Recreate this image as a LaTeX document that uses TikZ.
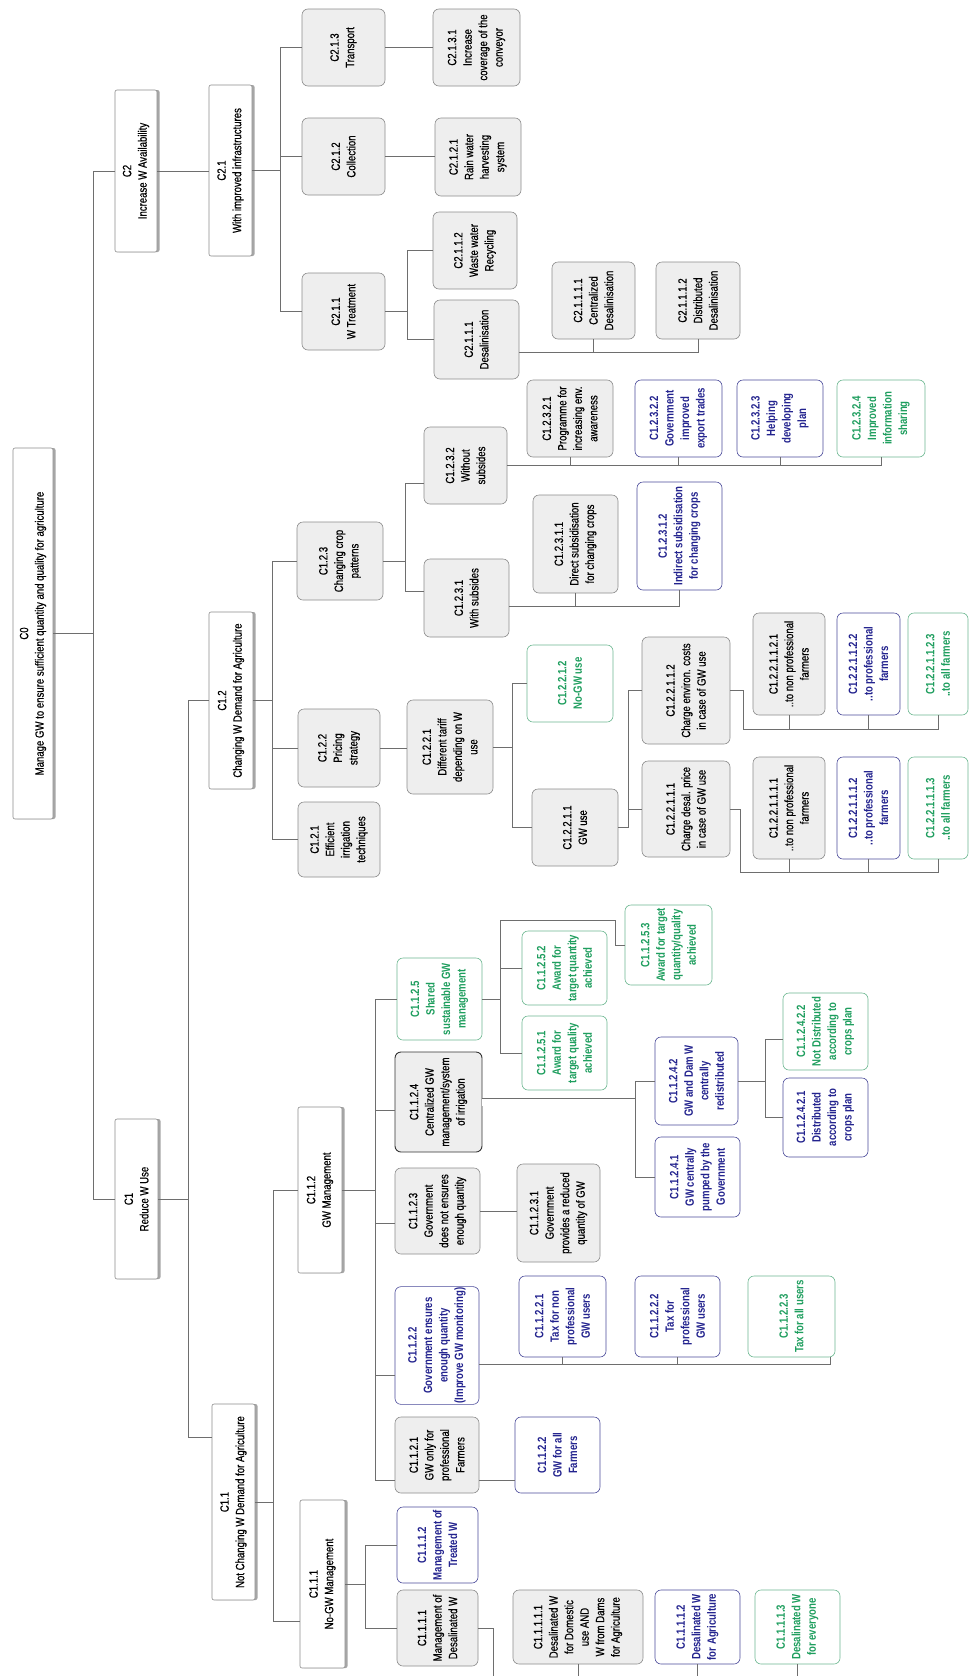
\documentclass[tikz,border=0pt]{standalone}
\usepackage{fontspec}
\setmainfont{Liberation Sans}[FakeStretch=0.8, UprightFeatures={FakeBold=0.6}]
\usetikzlibrary{calc,shadows}
\definecolor{lnk}{HTML}{6E6E6E}
\definecolor{gfill}{HTML}{EEEEEE}
\definecolor{gdraw}{HTML}{8C8C8C}
\definecolor{navy}{HTML}{23238E}
\definecolor{navyd}{HTML}{4A4A9A}
\definecolor{grn}{HTML}{1E9E5E}
\definecolor{grnd}{HTML}{6DB891}
\newcommand\bx[7]{\node[#2, minimum width={(#6-#5)*1pt}, minimum height={(#4-#3)*1pt}] (#1) at ({(#3+#4)/2},{(#5+#6)/2}) {#7};}
\begin{document}
\begin{tikzpicture}[x=1pt,y=-1pt,
  base/.style={rotate=90, align=center, inner sep=1pt, font=\fontsize{12}{15.5}\selectfont, line width=0.6pt},
  tbox/.style={base, rounded corners=2pt, draw=gdraw, fill=white, drop shadow={shadow xshift=2.5pt, shadow yshift=0pt, fill=gray!70, opacity=1}},
  gbox/.style={base, rounded corners=6pt, draw=gdraw, fill=gfill},
  gboxd/.style={gbox, draw=black!80, line width=0.9pt},
  bbox/.style={base, rounded corners=6pt, draw=navyd, fill=white, text=navy, font=\fontsize{12}{15.5}\selectfont\bfseries},
  ebox/.style={base, rounded corners=6pt, draw=grnd, fill=white, text=grn, font=\fontsize{12}{15.5}\selectfont\bfseries},
  lk/.style={draw=lnk, line width=0.7pt}
]
\useasboundingbox (0,0) rectangle (969,1676);
\fill[white] (0,0) rectangle (969,1676);
% ---------- top level ----------
\bx{C0}{tbox}{13}{53}{448}{819}{C0\\Manage GW to ensure sufficient quantity and quality for agriculture}
\bx{C2}{tbox}{115}{157}{90}{252}{C2\\Increase W Availability}
\bx{C1}{tbox}{115}{158}{1119}{1279}{C1\\Reduce W Use}
\bx{C21}{tbox}{209}{252}{85}{256}{C2.1\\With improved infrastructures}
\bx{C12}{tbox}{209}{253}{612}{789}{C1.2\\Changing W Demand for Agriculture}
\bx{C11}{tbox}{212}{255}{1404}{1600}{C1.1\\Not Changing W Demand for Agriculture}
\bx{C112}{tbox}{298}{342}{1107}{1273}{C1.1.2\\GW Management}
\bx{C111}{tbox}{300}{345}{1500}{1668}{C1.1.1\\No-GW Management}
% ---------- C2 branch ----------
\bx{C211}{gbox}{302}{385}{273}{350}{C2.1.1\\W Treatment}
\bx{C212}{gbox}{302}{385}{118}{195}{C2.1.2\\Collection}
\bx{C213}{gbox}{302}{385}{9}{86}{C2.1.3\\Transport}
\bx{C2131}{gbox}{433}{520}{9}{86}{C2.1.3.1\\Increase\\coverage of the\\conveyor}
\bx{C2121}{gbox}{435}{521}{118}{196}{C2.1.2.1\\Rain water\\harvesting\\system}
\bx{C2112}{gbox}{433}{517}{212}{289}{C2.1.1.2\\Waste water\\Recycling}
\bx{C2111}{gbox}{434}{519}{300}{379}{C2.1.1.1\\Desalinisation}
\bx{C21111}{gbox}{552}{635}{262}{339}{C2.1.1.1.1\\Centralized\\Desalinisation}
\bx{C21112}{gbox}{656}{740}{262}{339}{C2.1.1.1.2\\Distributed\\Desalinisation}
% ---------- C1.2 branch ----------
\bx{C123}{gbox}{297}{383}{522}{600}{C1.2.3\\Changing crop\\patterns}
\bx{C122}{gbox}{298}{380}{709}{787}{C1.2.2\\Pricing\\strategy}
\bx{C121}{gbox}{298}{380}{802}{877}{C1.2.1\\Efficient\\irrigation\\techniques}
\bx{C1232}{gbox}{424}{507}{427}{504}{C1.2.3.2\\Without\\subsides}
\bx{C1231}{gbox}{424}{509}{559}{637}{C1.2.3.1\\With subsides}
\bx{C12321}{gbox}{527}{613}{380}{457}{C1.2.3.2.1\\Programme for\\increasing env.\\awareness}
\bx{C12322}{bbox}{635}{722}{380}{457}{C1.2.3.2.2\\Government\\improved\\export trades}
\bx{C12323}{bbox}{737}{823}{380}{457}{C1.2.3.2.3\\Helping\\developing\\plan}
\bx{C12324}{ebox}{837}{925}{380}{457}{C1.2.3.2.4\\Improved\\information\\sharing}
\bx{C12311}{gbox}{533}{618}{495}{593}{C1.2.3.1.1\\Direct subsidisation\\for changing crops}
\bx{C12312}{bbox}{637}{722}{482}{590}{C1.2.3.1.2\\Indirect subsidisation\\for changing crops}
\bx{C1221}{gbox}{407}{493}{700}{794}{C1.2.2.1\\Different tariff\\depending on W\\use}
\bx{C12212}{ebox}{527}{613}{645}{722}{C1.2.2.1.2\\No-GW use}
\bx{C12211}{gbox}{532}{618}{789}{866}{C1.2.2.1.1\\GW use}
\bx{C122112}{gbox}{642}{730}{637}{744}{C1.2.2.1.1.2\\Charge environ. costs\\in case of GW use}
\bx{C122111}{gbox}{642}{730}{761}{857}{C1.2.2.1.1.1\\Charge desal. price\\in case of GW use}
\bx{C1221121}{gbox}{753}{825}{613}{715}{C1.2.2.1.1.2.1\\..to non professional\\farmers}
\bx{C1221122}{bbox}{837}{900}{613}{715}{C1.2.2.1.1.2.2\\..to professional\\farmers}
\bx{C1221123}{ebox}{908}{968}{613}{715}{C1.2.2.1.1.2.3\\..to all farmers}
\bx{C1221111}{gbox}{753}{825}{757}{859}{C1.2.2.1.1.1.1\\..to non professional\\farmers}
\bx{C1221112}{bbox}{837}{900}{757}{859}{C1.2.2.1.1.1.2\\..to professional\\farmers}
\bx{C1221113}{ebox}{908}{968}{757}{859}{C1.2.2.1.1.1.3\\..to all farmers}
% ---------- C1.1.2 branch ----------
\bx{C1125}{ebox}{397}{482}{958}{1040}{C1.1.2.5\\Shared\\sustainable GW\\management}
\bx{C1124}{gboxd}{395}{482}{1052}{1152}{C1.1.2.4\\Centralized GW\\management/system\\of irrigation}
\bx{C1123}{gbox}{395}{480}{1168}{1254}{C1.1.2.3\\Government\\does not ensures\\enough quantity}
\bx{C1122}{bbox}{395}{479}{1287}{1404}{C1.1.2.2\\Government ensures\\enough quantity\\(Improve GW monitoring)}
\bx{C1121}{gbox}{395}{479}{1417}{1493}{C1.1.2.1\\GW only for\\professional\\Farmers}
\bx{C11252}{ebox}{522}{607}{931}{1005}{C1.1.2.5.2\\Award for\\target quantity\\achieved}
\bx{C11251}{ebox}{522}{607}{1016}{1090}{C1.1.2.5.1\\Award for\\target quality\\achieved}
\bx{C11253}{ebox}{625}{712}{905}{985}{C1.1.2.5.3\\Award for target\\quantity/quality\\achieved}
\bx{C11242}{bbox}{655}{738}{1037}{1125}{C1.1.2.4.2\\GW and Dam W\\centrally\\redistributed}
\bx{C11241}{bbox}{655}{740}{1137}{1217}{C1.1.2.4.1\\GW centrally\\pumped by the\\Government}
\bx{C112422}{ebox}{783}{868}{993}{1070}{C1.1.2.4.2.2\\Not Distributed\\according to\\crops plan}
\bx{C112421}{bbox}{783}{868}{1078}{1157}{C1.1.2.4.2.1\\Distributed\\according to\\crops plan}
\bx{C11231}{gbox}{517}{600}{1164}{1262}{C1.1.2.3.1\\Government\\provides a reduced\\quantity of GW}
\bx{C11221}{bbox}{519}{606}{1276}{1357}{C1.1.2.2.1\\Tax for non\\professional\\GW users}
\bx{C11222}{bbox}{635}{720}{1276}{1357}{C1.1.2.2.2\\Tax for\\professional\\GW users}
\bx{C11223}{ebox}{748}{835}{1276}{1357}{C1.1.2.2.3\\Tax for all users}
\bx{C1122b}{bbox}{515}{600}{1417}{1493}{C1.1.2.2\\GW for all\\Farmers}
% ---------- C1.1.1 branch ----------
\bx{C1112}{bbox}{397}{478}{1507}{1583}{C1.1.1.2\\Management of\\Treated W}
\bx{C1111}{gbox}{397}{478}{1590}{1666}{C1.1.1.1\\Management of\\Desalinated W}
\bx{C11111}{gbox}{513}{643}{1590}{1664}{C1.1.1.1.1\\Desalinated W\\for Domestic\\use AND\\W from Dams\\for Agriculture}
\bx{C11112}{bbox}{655}{740}{1590}{1664}{C1.1.1.1.2\\Desalinated W\\for Agriculture}
\bx{C11113}{ebox}{755}{840}{1590}{1664}{C1.1.1.1.3\\Desalinated W\\for everyone}
% ---------- connectors ----------
\draw[lk] (C0.south) -- ++(40,0) coordinate (r0);
\draw[lk] (r0) |- (C2.north);
\draw[lk] (r0) |- (C1.north);
\draw[lk] (C2.south) -- (C2.south -| C21.north);
\draw[lk, line width=1.3pt] (C21.south) -- ++(28,0) coordinate (r21);
\draw[lk] (r21) |- (C213.north);
\draw[lk] (r21) |- (C212.north);
\draw[lk] (r21) |- (C211.north);
\draw[lk] (C213.south) -- (C2131.north);
\draw[lk] (C212.south) -- (C212.south -| C2121.north);
\draw[lk] (C211.south) -- ++(22,0) coordinate (r211);
\draw[lk] (r211) |- (C2112.north);
\draw[lk] (r211) |- (C2111.north);
\draw[lk] ($(C2111.south)+(0,12.5)$) -| (C21111.west);
\draw[lk] ($(C2111.south)+(0,12.5)$) -| (C21112.west);
% C1
\draw[lk] (C1.south) -- ++(30,0) coordinate (r1);
\draw[lk] (r1) |- (C12.north);
\draw[lk] (r1) |- ($(C11.north)+(0,-65)$);
% C1.2
\draw[lk] (C12.south) -- ++(19,0) coordinate (r12);
\draw[lk] (r12) |- (C123.north);
\draw[lk] (r12) |- (C122.north);
\draw[lk] (r12) |- (C121.north);
\draw[lk] (C123.south) -- ++(22,0) coordinate (r123);
\draw[lk] (r123) |- ($(C1232.north)+(0,18)$);
\draw[lk] (r123) |- ($(C1231.north)+(0,-7)$);
\draw[lk] (C1232.south) -| (C12321.west);
\draw[lk] (C1232.south) -| (C12322.west);
\draw[lk] (C1232.south) -| (C12323.west);
\draw[lk] (C1232.south) -| (C12324.west);
\draw[lk] ($(C1231.south)+(0,8)$) -| (C12311.west);
\draw[lk] ($(C1231.south)+(0,8)$) -| (C12312.west);
\draw[lk] (C122.south) -- (C122.south -| C1221.north);
\draw[lk] (C1221.south) -- ++(19,0) coordinate (r1221);
\draw[lk] (r1221) |- (C12212.north);
\draw[lk] (r1221) |- (C12211.north);
\draw[lk] (C12211.south) -- ++(10,0) coordinate (r12211);
\draw[lk] (r12211) |- (C122112.north);
\draw[lk] (r12211) |- (C122111.north);
\coordinate (b2) at (743,729);
\coordinate (b1) at (740,872);
\draw[lk] (C122112.south) -| (b2) -| (C1221123.west);
\draw[lk] (b2) -| (C1221121.west);
\draw[lk] (b2) -| (C1221122.west);
\draw[lk] (C122111.south) -| (b1) -| (C1221113.west);
\draw[lk] (b1) -| (C1221111.west);
\draw[lk] (b1) -| (C1221112.west);
% C1.1
\draw[lk] (C11.south) -- ++(18,0) coordinate (r11);
\draw[lk] (r11) |- (C112.north);
\draw[lk] (r11) |- ($(C111.north)+(0,37)$);
\draw[lk] (C112.south) -- ++(33,0) coordinate (r112);
\draw[lk] (r112) |- (C1125.north);
\draw[lk] (r112) |- ($(C1124.north)+(0,8)$);
\draw[lk] (r112) |- ($(C1123.north)+(0,12)$);
\draw[lk] (r112) |- ($(C1122.north)+(0,30)$);
\draw[lk] (r112) |- ($(C1121.north)+(0,25)$);
\draw[lk] (C1125.south) -- ++(18,0) coordinate (r1125);
\coordinate (k5) at (615,920);
\draw[lk] (r1125) |- (C11252.north);
\draw[lk] (r1125) |- (C11251.north);
\draw[lk] (r1125) |- (k5) |- (C11253.north);
\draw[lk, double=white, double distance=7pt] (C1124.south) -- ++(153,0) coordinate (r1124);
\draw[lk] (r1124) |- (C11242.north);
\draw[lk] (r1124) |- (C11241.north);
\draw[lk] (C11242.south) -- ++(27,0) coordinate (r11242);
\draw[lk] (r11242) |- ($(C112422.north)+(0,8)$);
\draw[lk] (r11242) |- (C112421.north);
\draw[lk] (C1123.south) -- (C1123.south -| C11231.north);
\coordinate (b22) at (830,1364);
\draw[lk] ($(C1122.south)+(0,18.5)$) -- (b22) -- (b22 |- C11223.west);
\draw[lk] (C11221.west) -- (C11221.west |- b22);
\draw[lk] (C11222.west) -- (C11222.west |- b22);
\draw[lk] ($(C1121.south)+(0,25)$) -- ($(C1122b.north)+(0,25)$);
% C1.1.1
\draw[lk] (C111.south) -- ++(20,0) coordinate (r111);
\draw[lk] (r111) |- (C1112.north);
\draw[lk] (r111) |- (C1111.north);
\coordinate (b11) at (493,1676);
\draw[lk] (C1111.south) -| (b11);
\draw[lk] (C11111.west) -- (C11111.west |- b11);
\draw[lk] (C11112.west) -- (C11112.west |- b11);
\draw[lk] (C11113.west) -- (C11113.west |- b11);
\end{tikzpicture}
\end{document}
